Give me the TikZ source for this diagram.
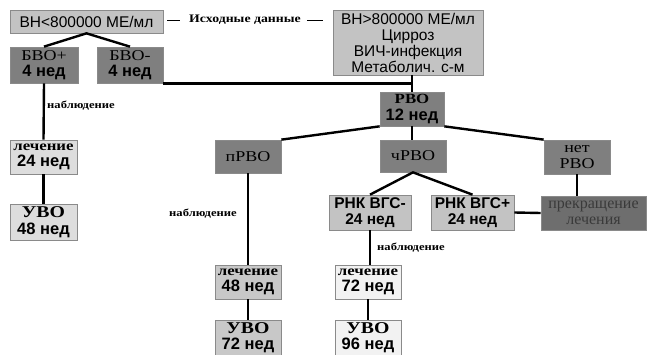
\documentclass[tikz,border=0pt]{standalone}
\usepackage{fontspec}
\setmainfont{Liberation Serif}
\setsansfont{Liberation Sans}
\newfontfamily\wideserif[FakeStretch=1.2]{Liberation Serif}
\usetikzlibrary{calc}
\definecolor{dk}{HTML}{7F7F7F}
\definecolor{dkr}{HTML}{6E6E6E}
\definecolor{lga}{HTML}{C3C3C3}
\definecolor{lgb}{HTML}{C8C8C8}
\definecolor{lgc}{HTML}{DDDDDD}
\definecolor{lgd}{HTML}{F2F2F2}
\definecolor{edge}{HTML}{8A8A8A}
\definecolor{stoptext}{HTML}{3A3A3A}
\newcommand\serl{\wideserif\fontsize{15}{16.5}\selectfont}
\newcommand\serb{\wideserif\bfseries\fontsize{14}{16.5}\selectfont}
\newcommand\seru{\wideserif\bfseries\fontsize{16.5}{16.5}\selectfont}
\newcommand\sanb{\sffamily\bfseries\fontsize{16.5}{16.5}\selectfont}
\begin{document}
\begin{tikzpicture}[x=1pt,y=-1pt,
  box/.style={draw=edge, line width=0.7pt, align=center, inner sep=0pt,
    font=\fontsize{15.5}{16.5}\selectfont},
  darkbox/.style={box, fill=dk, minimum width=66, minimum height=34},
  conn/.style={line width=2.4pt, black},
  dashline/.style={line width=0.9pt, black},
  obslabel/.style={inner sep=0pt, font=\wideserif\bfseries\fontsize{10.5}{12}\selectfont}
]
\useasboundingbox (0,0) rectangle (647,355);

% top row
\node[box, fill=lga, minimum width=153, minimum height=23] (b1) at (86.5,21.5)
  {\sffamily ВН<800000 МЕ/мл};
\node[box, fill=lga, minimum width=150, minimum height=65,
  font=\fontsize{15.5}{16}\selectfont] (b2) at (408,42.5)
  {\sffamily ВН>800000 МЕ/мл\\\sffamily Цирроз\\\sffamily ВИЧ-инфекция\\\sffamily Метаболич. с-м};
\node[inner sep=0pt, font=\wideserif\bfseries\fontsize{11.5}{13}\selectfont] (src) at (245,20)
  {Исходные данные};
\draw[dashline] ([xshift=4]b1.east |- src) -- ([xshift=-9]src.west);
\draw[dashline] ([xshift=6]src.east) -- ($(src -| b2.west)+(-10,0)$);

% left branch
\node[darkbox, minimum width=68, minimum height=36] (bvop) at (44,65)
  {\serl БВО+\\\sanb 4 нед};
\node[darkbox, minimum width=66, minimum height=36] (bvom) at (130,65)
  {\serl БВО-\\\sanb 4 нед};
\node[box, fill=lgc, minimum width=67, minimum height=34] (lech24) at (43.5,157)
  {\serb лечение\\\sanb 24 нед};
\node[box, fill=lgc, minimum width=67, minimum height=36] (uvo48) at (43.5,222)
  {\seru УВО\\\sanb 48 нед};
\node[obslabel, anchor=west] (obs1) at (47,106) {наблюдение};

% РВО and its branches
\node[darkbox, minimum width=64, minimum height=34] (rvo) at (412,109)
  {\serb РВО\\\sanb 12 нед};
\node[darkbox, minimum height=33] (prvo) at (248,156.5) {\serl пРВО};
\node[darkbox, minimum height=32] (chrvo) at (413,156) {\serl чРВО};
\node[darkbox, minimum height=34] (net) at (577,157) {\serl нет\\\serl РВО};

\node[box, fill=lga, minimum width=82, minimum height=35] (rnkm) at (370,212.5)
  {\sffamily\bfseries РНК ВГС-\\\sffamily\bfseries 24 нед};
\node[box, fill=lga, minimum width=83, minimum height=35] (rnkp) at (472.5,212.5)
  {\sffamily\bfseries РНК ВГС+\\\sffamily\bfseries 24 нед};
\node[box, fill=dkr, text=stoptext, minimum width=105, minimum height=34] (stop) at (593.5,213)
  {\rmfamily\fontsize{16}{16.5}\selectfont прекращение\\\rmfamily\fontsize{16}{16.5}\selectfont лечения};

\node[box, fill=lgb, minimum width=66, minimum height=34] (lech48) at (248,282)
  {\serb лечение\\\sanb 48 нед};
\node[box, fill=lgb, minimum width=66, minimum height=35] (uvo72) at (248,337.5)
  {\seru УВО\\\sanb 72 нед};
\node[box, fill=lgd, minimum width=66, minimum height=34] (lech72) at (368,282)
  {\serb лечение\\\sanb 72 нед};
\node[box, fill=lgd, minimum width=66, minimum height=35] (uvo96) at (368,337.5)
  {\seru УВО\\\sanb 96 нед};
\node[obslabel, anchor=east] (obs2) at (237,214) {наблюдение};
\node[obslabel, anchor=west] (obs3) at (377,248) {наблюдение};

% connectors
\draw[conn] (bvop.north) -- (b1.south) -- (bvom.north);
\draw[conn] (bvop.south) -- (lech24.north);
\draw[conn] (lech24.south) -- (uvo48.north);
\draw[conn] (bvom.south east) -- (bvom.south east -| rvo.north);
\draw[conn] (rvo.north |- b2.south) -- (rvo.north);
\draw[conn] (rvo.south west) -- (prvo.north east);
\draw[conn] (rvo.south) -- (rvo.south |- chrvo.north);
\draw[conn] (rvo.south east) -- (net.north west);
\draw[conn] (rnkm.north) -- (chrvo.south) -- (rnkp.north);
\draw[conn] (rnkp.east) -- (stop.west);
\draw[conn] (net.south) -- (net.south |- stop.north);
\draw[conn] (prvo.south) -- (lech48.north);
\draw[conn] (lech48.south) -- (uvo72.north);
\draw[conn] (rnkm.south) -- (rnkm.south |- lech72.north);
\draw[conn] (lech72.south) -- (uvo96.north);
\end{tikzpicture}
\end{document}
